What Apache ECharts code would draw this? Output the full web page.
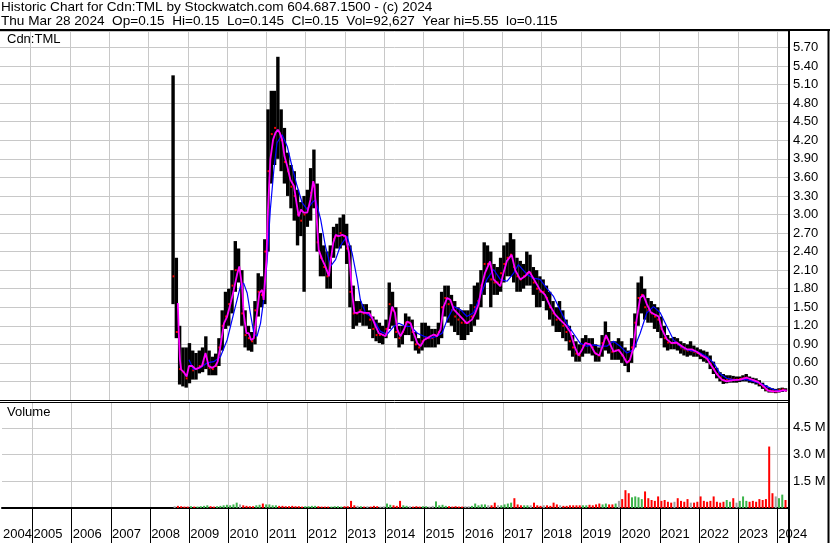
<!DOCTYPE html>
<html><head><meta charset="utf-8">
<script src="https://cdn.jsdelivr.net/npm/echarts@6/dist/echarts.min.js"></script>
<style>html,body{margin:0;padding:0;background:#fff}#c{width:830px;height:543px}</style>
</head><body><div id="c"></div>
<script>
// ---- data ----
const startYear = 2008, startMonth = 8; // first monthly bar: Aug 2008
const hi = [
 5.25,2.30,1.20,0.85,0.85,
 0.92,0.80,0.76,0.80,0.85,1.03,0.80,0.70,0.75,1.00,1.45,1.75,
 1.80,2.10,2.57,2.45,2.10,1.45,1.20,1.10,1.60,2.05,2.00,2.60,
 4.70,5.00,5.00,5.55,4.70,4.40,4.00,3.80,3.70,3.40,3.20,3.30,
 3.40,3.75,4.05,3.50,2.70,2.50,2.40,2.50,2.80,2.85,2.95,3.00,
 2.85,2.50,1.85,1.60,1.60,1.55,1.55,1.45,1.35,1.30,1.25,1.20,
 1.30,1.90,1.75,1.50,1.20,1.20,1.40,1.35,1.30,1.10,1.00,1.25,
 1.25,1.20,1.15,1.15,1.25,1.75,1.85,1.85,1.70,1.60,1.50,1.45,
 1.45,1.45,1.55,1.85,1.90,2.10,2.55,2.50,2.40,2.20,2.15,2.30,
 2.50,2.55,2.70,2.60,2.30,2.25,2.20,2.40,2.35,2.15,2.10,2.00,
 1.95,1.85,1.75,1.60,1.50,1.60,1.45,1.30,1.20,1.05,0.95,0.90,
 1.00,1.05,1.00,1.00,0.90,0.85,1.05,1.27,1.10,0.95,0.95,1.00,
 0.95,0.85,0.80,1.00,1.40,1.90,2.00,1.80,1.65,1.60,1.55,1.50,
 1.35,1.20,1.05,1.00,1.02,1.00,0.95,0.92,0.90,0.95,0.88,0.85,
 0.82,0.80,0.78,0.72,0.62,0.52,0.45,0.42,0.40,0.40,0.39,0.38,
 0.38,0.40,0.42,0.38,0.36,0.35,0.32,0.28,0.24,0.20,0.19,0.18,
 0.19,0.20,0.19];
const lo = [
 1.55,1.00,0.25,0.22,0.20,
 0.27,0.33,0.33,0.43,0.45,0.50,0.40,0.40,0.40,0.55,0.80,1.15,
 1.20,1.40,1.75,1.90,1.20,0.85,0.80,0.78,0.90,1.35,1.50,1.55,
 2.40,3.50,3.80,3.90,3.70,3.50,3.30,3.10,2.90,2.50,2.65,1.75,
 2.80,2.90,3.10,2.40,2.00,2.00,1.80,1.80,2.30,2.45,2.45,2.50,
 2.20,1.50,1.15,1.20,1.25,1.20,1.20,1.15,1.00,0.95,0.92,0.90,
 1.00,1.15,1.20,1.00,0.85,0.90,1.05,1.05,0.95,0.80,0.75,0.80,
 0.85,0.85,0.85,0.85,0.90,1.00,1.35,1.25,1.20,1.10,1.05,0.97,
 0.97,1.05,1.10,1.20,1.30,1.50,1.70,1.90,1.50,1.70,1.70,1.75,
 1.90,2.00,2.00,1.90,1.75,1.75,1.80,1.85,1.85,1.70,1.50,1.50,
 1.60,1.45,1.30,1.20,1.10,1.10,1.00,0.95,0.80,0.70,0.62,0.62,
 0.70,0.75,0.75,0.72,0.62,0.62,0.70,0.80,0.75,0.65,0.65,0.65,
 0.60,0.55,0.45,0.60,0.85,1.20,1.40,1.30,1.25,1.25,1.15,1.10,
 1.00,0.85,0.80,0.82,0.82,0.80,0.75,0.72,0.70,0.72,0.70,0.70,
 0.66,0.62,0.60,0.50,0.42,0.35,0.30,0.26,0.27,0.28,0.28,0.28,
 0.29,0.30,0.30,0.28,0.27,0.25,0.22,0.18,0.14,0.12,0.12,0.11,
 0.12,0.13,0.145];
const cl = [
 2.00,1.10,0.50,0.45,0.35,
 0.55,0.48,0.50,0.55,0.58,0.70,0.52,0.50,0.55,0.85,1.20,1.35,
 1.55,1.85,2.10,2.10,1.40,1.05,1.00,0.95,1.45,1.75,1.70,2.40,
 3.70,4.30,4.40,4.35,4.20,3.85,3.70,3.45,3.30,3.00,2.90,3.00,
 3.10,3.35,3.45,2.55,2.30,2.15,2.00,2.30,2.60,2.65,2.70,2.65,
 2.45,1.75,1.40,1.40,1.45,1.40,1.40,1.30,1.15,1.05,1.05,1.05,
 1.15,1.55,1.45,1.10,1.00,1.10,1.25,1.25,1.10,0.90,0.85,0.95,
 1.00,1.00,1.00,1.05,1.10,1.50,1.65,1.55,1.45,1.35,1.30,1.25,
 1.25,1.25,1.35,1.50,1.60,1.85,2.20,2.20,1.95,1.90,1.90,2.05,
 2.20,2.30,2.35,2.15,2.00,1.95,2.00,2.05,2.05,1.90,1.80,1.75,
 1.75,1.65,1.50,1.40,1.30,1.30,1.20,1.10,0.95,0.85,0.75,0.72,
 0.88,0.92,0.90,0.85,0.75,0.72,0.92,1.00,0.90,0.78,0.80,0.80,
 0.72,0.65,0.62,0.85,1.25,1.65,1.70,1.50,1.45,1.40,1.35,1.30,
 1.15,1.00,0.93,0.92,0.92,0.90,0.85,0.82,0.80,0.80,0.78,0.76,
 0.72,0.70,0.66,0.58,0.50,0.42,0.36,0.32,0.33,0.34,0.33,0.33,
 0.34,0.35,0.36,0.33,0.32,0.30,0.26,0.22,0.17,0.15,0.14,0.14,
 0.16,0.17,0.15];
const volM = [ // millions
 0.10,0.12,0.10,0.08,0.08,
 0.10,0.08,0.08,0.10,0.12,0.15,0.10,0.08,0.10,0.12,0.15,0.18,
 0.15,0.20,0.30,0.20,0.15,0.12,0.10,0.10,0.15,0.18,0.25,0.20,
 0.20,0.15,0.15,0.12,0.12,0.10,0.10,0.12,0.10,0.10,0.08,0.10,
 0.10,0.12,0.12,0.10,0.08,0.08,0.08,0.08,0.10,0.10,0.08,0.10,
 0.10,0.40,0.15,0.12,0.10,0.08,0.10,0.08,0.12,0.10,0.08,0.10,
 0.25,0.18,0.15,0.12,0.40,0.15,0.12,0.10,0.08,0.10,0.08,0.10,
 0.10,0.08,0.12,0.37,0.15,0.18,0.12,0.10,0.08,0.10,0.08,0.08,
 0.10,0.10,0.12,0.25,0.15,0.20,0.20,0.15,0.15,0.30,0.15,0.15,
 0.20,0.25,0.30,0.55,0.20,0.15,0.15,0.15,0.15,0.30,0.15,0.12,
 0.15,0.15,0.12,0.30,0.20,0.15,0.12,0.12,0.15,0.15,0.15,0.15,
 0.15,0.15,0.18,0.15,0.20,0.25,0.20,0.25,0.20,0.20,0.25,0.40,
 0.50,1.00,0.83,0.60,0.65,0.60,0.50,0.93,0.55,0.45,0.40,0.65,
 0.40,0.45,0.35,0.30,0.35,0.55,0.40,0.35,0.50,0.30,0.30,0.35,
 0.65,0.40,0.35,0.40,0.65,0.35,0.30,0.35,0.45,0.35,0.55,0.30,
 0.40,0.65,0.40,0.35,0.40,0.35,0.50,0.45,0.50,3.45,0.83,0.65,
 0.55,0.75,0.45];
const maFastYears = [2008.745,2008.77,2008.80,2008.83,2008.90,2008.97,2009.03,2009.11,2009.20,2009.28,2009.36,2009.45,2009.53,2009.62,2009.70,2009.76,2009.83,2009.92,2010.00,2010.09,2010.17,2010.26,2010.31,2010.38,2010.42,2010.49,2010.55,2010.61,2010.68,2010.76,2010.82,2010.89,2010.93,2011.00,2011.04,2011.10,2011.17,2011.23,2011.29,2011.34,2011.40,2011.46,2011.53,2011.61,2011.70,2011.78,2011.82,2011.88,2011.95,2012.04,2012.12,2012.19,2012.22,2012.27,2012.33,2012.42,2012.50,2012.59,2012.63,2012.70,2012.76,2012.84,2012.93,2013.01,2013.10,2013.18,2013.24,2013.31,2013.39,2013.50,2013.61,2013.69,2013.78,2013.86,2013.94,2014.03,2014.11,2014.20,2014.27,2014.33,2014.41,2014.50,2014.58,2014.67,2014.75,2014.84,2014.92,2015.01,2015.09,2015.17,2015.26,2015.34,2015.43,2015.51,2015.60,2015.68,2015.77,2015.85,2015.94,2016.10,2016.23,2016.31,2016.40,2016.48,2016.56,2016.69,2016.78,2016.86,2016.95,2017.03,2017.12,2017.24,2017.33,2017.46,2017.58,2017.69,2017.79,2017.90,2017.96,2018.09,2018.22,2018.35,2018.47,2018.60,2018.73,2018.85,2018.94,2019.02,2019.11,2019.24,2019.36,2019.47,2019.58,2019.64,2019.75,2019.83,2019.96,2020.07,2020.17,2020.25,2020.34,2020.42,2020.51,2020.59,2020.68,2020.78,2020.89,2020.98,2021.06,2021.19,2021.31,2021.44,2021.57,2021.70,2021.82,2021.95,2022.08,2022.21,2022.33,2022.46,2022.59,2022.71,2022.88,2023.05,2023.22,2023.39,2023.52,2023.65,2023.77,2023.90,2024.03,2024.16,2024.24];
const maFastVals = [1.57,1.08,0.65,0.49,0.45,0.38,0.55,0.55,0.50,0.52,0.55,0.76,0.55,0.52,0.55,0.62,0.87,1.24,1.35,1.57,1.78,2.05,2.16,1.84,1.41,1.08,1.08,0.97,1.00,1.41,1.73,1.78,1.62,2.27,3.08,3.89,4.21,4.32,4.37,4.32,4.21,3.94,3.78,3.56,3.46,3.13,2.97,3.08,3.03,3.03,3.24,3.54,3.46,3.03,2.43,2.27,2.16,2.00,2.22,2.54,2.67,2.65,2.67,2.65,2.38,1.73,1.41,1.41,1.43,1.41,1.41,1.33,1.19,1.08,1.06,1.03,1.19,1.51,1.41,1.14,1.03,1.14,1.27,1.24,1.08,0.92,0.87,0.97,1.00,1.03,1.06,1.03,1.14,1.51,1.65,1.62,1.46,1.41,1.35,1.24,1.30,1.40,1.55,1.85,2.05,2.24,1.95,1.90,1.84,2.05,2.25,2.35,2.10,1.95,2.00,2.08,1.97,1.85,1.78,1.70,1.52,1.38,1.30,1.22,1.10,0.85,0.72,0.80,0.92,0.90,0.76,0.72,0.92,1.05,0.90,0.78,0.81,0.72,0.60,0.65,0.85,1.30,1.65,1.70,1.55,1.42,1.38,1.35,1.15,0.98,0.92,0.93,0.87,0.82,0.82,0.78,0.72,0.67,0.55,0.42,0.33,0.30,0.32,0.33,0.36,0.32,0.29,0.22,0.15,0.14,0.14,0.16,0.15];
const maSlowYears = [2009.03,2009.15,2009.32,2009.49,2009.66,2009.83,2010.00,2010.17,2010.34,2010.42,2010.51,2010.59,2010.68,2010.76,2010.85,2010.93,2011.02,2011.10,2011.19,2011.27,2011.40,2011.53,2011.65,2011.78,2011.91,2012.04,2012.16,2012.25,2012.38,2012.50,2012.63,2012.76,2012.88,2013.05,2013.18,2013.31,2013.39,2013.52,2013.65,2013.78,2013.90,2014.07,2014.24,2014.37,2014.54,2014.67,2014.84,2015.01,2015.17,2015.34,2015.47,2015.60,2015.77,2015.94,2016.10,2016.27,2016.44,2016.61,2016.78,2016.95,2017.12,2017.29,2017.41,2017.63,2017.79,2017.96,2018.13,2018.30,2018.47,2018.64,2018.81,2018.98,2019.15,2019.32,2019.49,2019.66,2019.83,2020.00,2020.17,2020.34,2020.51,2020.68,2020.85,2021.02,2021.19,2021.36,2021.53,2021.70,2021.87,2022.04,2022.21,2022.38,2022.54,2022.71,2022.88,2023.05,2023.22,2023.39,2023.56,2023.73,2023.90,2024.07,2024.24];
const maSlowVals = [0.65,0.49,0.52,0.60,0.62,0.70,0.97,1.41,1.84,1.89,1.73,1.41,1.08,1.03,1.24,1.62,2.27,3.08,3.73,4.16,4.29,4.10,3.78,3.46,3.19,3.08,3.19,3.24,2.92,2.49,2.16,2.27,2.49,2.65,2.38,1.95,1.62,1.41,1.35,1.24,1.11,1.06,1.19,1.24,1.19,1.19,1.08,1.03,1.00,1.03,1.08,1.30,1.51,1.46,1.35,1.41,1.68,1.95,2.11,1.95,1.92,2.05,2.19,2.03,1.97,1.95,1.81,1.68,1.46,1.24,1.08,0.92,0.87,0.89,0.87,0.87,0.95,0.87,0.76,0.81,1.08,1.41,1.51,1.41,1.19,0.97,0.87,0.81,0.79,0.76,0.70,0.60,0.43,0.35,0.33,0.33,0.33,0.30,0.27,0.22,0.17,0.15,0.15];
const yearTicks = [2005,2006,2007,2008,2009,2010,2011,2012,2013,2014,2015,2016,2017,2018,2019,2020,2021,2022,2023,2024];
const headerLine1 = 'Historic Chart for Cdn:TML by Stockwatch.com 604.687.1500 - (c) 2024';
const headerLine2 = 'Thu Mar 28 2024  Op=0.15  Hi=0.15  Lo=0.145  Cl=0.15  Vol=92,627  Year hi=5.55  lo=0.115';

// ---- build ----
const XMIN = 2004.221, XMAX = 2024.297;
const FONT = "'Liberation Sans', Arial, sans-serif";
const monthX = i => startYear + (startMonth - 1 + i + 0.5) / 12;
const ohlc = hi.map((h, i) => [monthX(i), h, lo[i], cl[i]]);
const vols = volM.map((v, i) => {
  const d = i === 0 ? 0 : cl[i] - cl[i - 1];
  return [monthX(i), v * 1e6, d > 0.001 ? 1 : (d < -0.001 ? -1 : 0)];
});
const fast = maFastYears.map((y, i) => [y, maFastVals[i]]);
const slow = maSlowYears.map((y, i) => [y, maSlowVals[i]]);
const GRID = '#c8c8c8';

const chart = echarts.init(document.getElementById('c'), null, {renderer: 'canvas'});
chart.setOption({
  animation: false,
  backgroundColor: '#fff',
  grid: [
    {left: 0, top: 31, width: 789, height: 369},
    {left: 0, top: 402, width: 789, height: 106}
  ],
  xAxis: [
    {gridIndex: 0, type: 'value', min: XMIN, max: XMAX,
     axisLine: {show: false}, axisLabel: {show: false},
     axisTick: {show: false, customValues: yearTicks},
     splitLine: {show: true, lineStyle: {color: GRID, width: 1}}},
    {gridIndex: 1, type: 'value', min: XMIN, max: XMAX,
     axisLine: {show: true, lineStyle: {color: '#000', width: 2}},
     axisTick: {show: true, customValues: yearTicks, length: 35, lineStyle: {color: '#000', width: 1}},
     axisLabel: {show: true, customValues: [XMIN].concat(yearTicks), align: 'left', margin: 20,
       padding: [0, 0, 0, 1], color: '#000', fontSize: 13, fontFamily: FONT,
       formatter: v => String(Math.floor(v + 0.001))},
     splitLine: {show: true, lineStyle: {color: GRID, width: 1}}}
  ],
  yAxis: [
    {gridIndex: 0, type: 'value', position: 'right', min: 0, max: 5.967, interval: 0.3,
     axisLine: {show: false}, axisTick: {show: false},
     axisLabel: {margin: 4, color: '#000', fontSize: 13, fontFamily: FONT,
       formatter: v => (v < 0.01 || v > 5.8) ? '' : v.toFixed(2)},
     splitLine: {show: true, lineStyle: {color: GRID, width: 1}}},
    {gridIndex: 1, type: 'value', position: 'right', min: 0, max: 5.95e6, interval: 1.5e6,
     axisLine: {show: false}, axisTick: {show: false},
     axisLabel: {margin: 4, color: '#000', fontSize: 13, fontFamily: FONT,
       formatter: v => (v < 1 || v > 5e6) ? '' : (v / 1e6).toFixed(1) + ' M'},
     splitLine: {show: true, lineStyle: {color: GRID, width: 1}}}
  ],
  series: [
    {type: 'custom', xAxisIndex: 0, yAxisIndex: 0, data: ohlc, encode: {x: 0, y: [1, 2, 3]}, z: 2,
     renderItem: (params, api) => {
       const x = api.value(0);
       const pH = api.coord([x, api.value(1)]);
       const pL = api.coord([x, api.value(2)]);
       const pC = api.coord([x, api.value(3)]);
       return {type: 'group', children: [
         {type: 'rect', shape: {x: pH[0] - 1.7, y: pH[1], width: 3.4, height: Math.max(1, pL[1] - pH[1])}, style: {fill: '#000'}},
         {type: 'rect', shape: {x: pC[0] - 0.5, y: pC[1] - 1, width: 2, height: 2}, style: {fill: '#ff0000'}}
       ]};
     }},
    {type: 'line', xAxisIndex: 0, yAxisIndex: 0, data: slow, showSymbol: false, z: 3,
     lineStyle: {color: '#0000ff', width: 1.2}},
    {type: 'line', xAxisIndex: 0, yAxisIndex: 0, data: fast, showSymbol: false, z: 4,
     lineStyle: {color: '#ff00ff', width: 1.8}},
    {type: 'custom', xAxisIndex: 1, yAxisIndex: 1, data: vols, encode: {x: 0, y: 1}, z: 2,
     renderItem: (params, api) => {
       const x = api.value(0);
       const p1 = api.coord([x, api.value(1)]);
       const p0 = api.coord([x, 0]);
       const s = api.value(2);
       return {type: 'rect', shape: {x: p1[0] - 1, y: p1[1], width: 2, height: Math.max(1, p0[1] - p1[1])},
         style: {fill: s > 0 ? '#3cb44b' : (s < 0 ? '#ff0000' : '#a0a0a0')}};
     }}
  ],
  graphic: [
    {type: 'text', left: 1, top: 0, z: 10, style: {text: headerLine1, font: '13.6px ' + FONT, fill: '#000'}},
    {type: 'text', left: 1, top: 14, z: 10, style: {text: headerLine2, font: '13.6px ' + FONT, fill: '#000'}},
    {type: 'text', left: 7, top: 33, z: 10, style: {text: 'Cdn:TML', font: '13px ' + FONT, fill: '#000'}},
    {type: 'text', left: 7, top: 406, z: 10, style: {text: 'Volume', font: '13px ' + FONT, fill: '#000'}},
    {type: 'line', z: 10, shape: {x1: 0, y1: 30, x2: 830, y2: 30}, style: {stroke: '#000', lineWidth: 2}},
    {type: 'line', z: 10, shape: {x1: 0, y1: 400.5, x2: 789, y2: 400.5}, style: {stroke: '#000', lineWidth: 1}},
    {type: 'line', z: 10, shape: {x1: 0, y1: 402.5, x2: 789, y2: 402.5}, style: {stroke: '#000', lineWidth: 1}},
    {type: 'line', z: 10, shape: {x1: 789, y1: 30, x2: 789, y2: 543}, style: {stroke: '#000', lineWidth: 2}},
    {type: 'line', z: 10, shape: {x1: 828.5, y1: 30, x2: 828.5, y2: 543}, style: {stroke: '#000', lineWidth: 2}}
  ]
});
</script></body></html>
